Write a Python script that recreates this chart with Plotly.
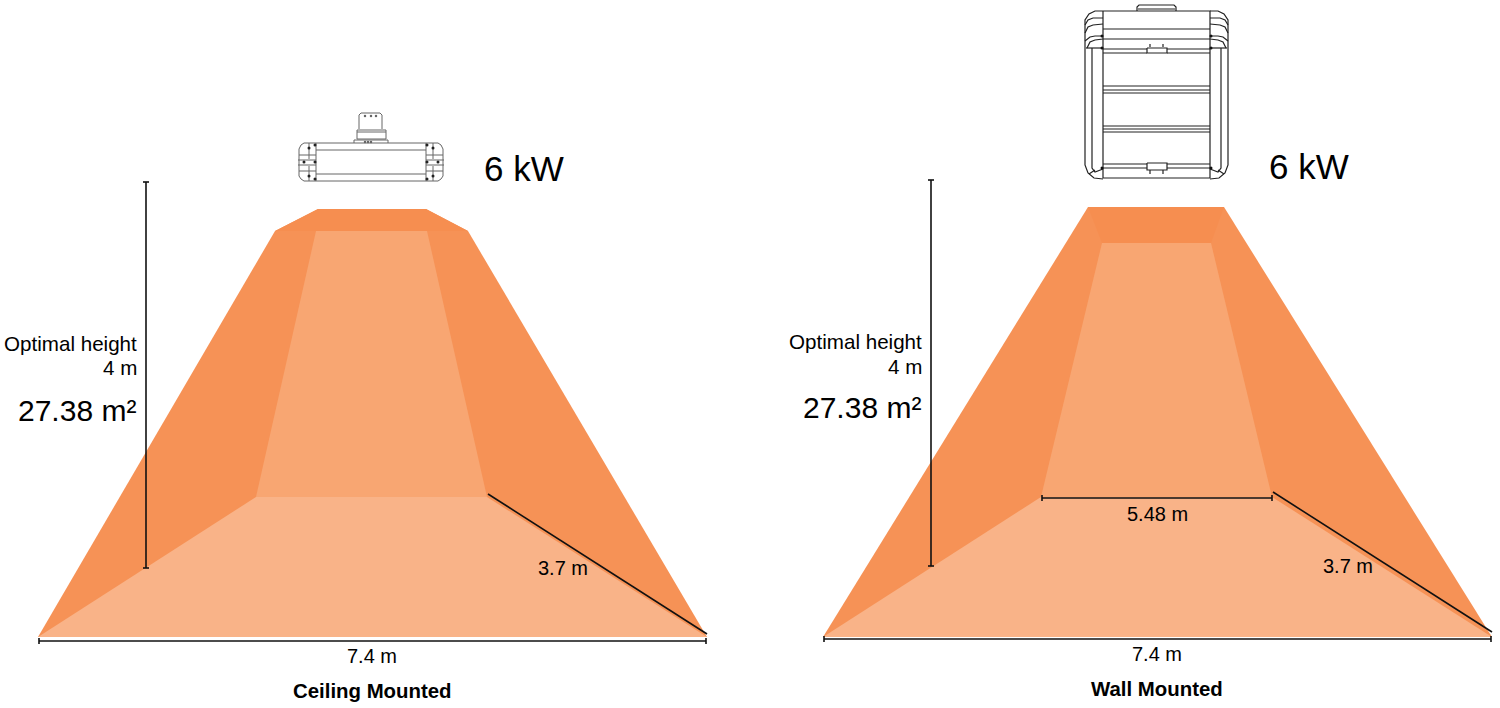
import plotly.graph_objects as go

DARK = "#F69256"
BAND = "#F68E50"
WALL = "#F8A672"
FLOOR = "#F9B388"
INK = "#111111"
GREY = "#666666"

# --- Ceiling mounted diagram (picture coordinates)
c_outer_x = [38, 275, 318, 426, 468, 707]
c_outer_y = [637, 231, 209, 209, 231, 637]
c_band_x = [275, 318, 426, 468]
c_band_y = [231, 209, 209, 231]
c_back_x = [316, 427, 487, 256]
c_back_y = [231, 231, 497, 497]
c_floor_x = [256, 487, 707, 38]
c_floor_y = [497, 497, 637, 637]

# --- Wall mounted diagram
w_outer_x = [823, 1088, 1224, 1492]
w_outer_y = [637, 207, 207, 637]
w_band_x = [1088, 1224, 1211, 1102]
w_band_y = [207, 207, 243, 243]
w_back_x = [1102, 1211, 1272, 1041]
w_back_y = [243, 243, 497, 497]
w_floor_x = [1041, 1272, 1492, 823]
w_floor_y = [497, 497, 637, 637]

# dimension lines
dim_lines = [
    [(146, 182), (146, 568)], [(39, 641), (706, 641)], [(488, 494), (707, 634)],
    [(931, 180), (931, 566)], [(824, 639), (1491, 639)], [(1042, 498), (1272, 498)], [(1273, 492), (1492, 632)],
]
dim_caps = [
    [(143, 182), (149, 182)], [(143, 568), (149, 568)], [(39, 638), (39, 644)], [(706, 638), (706, 644)],
    [(928, 180), (934, 180)], [(928, 566), (934, 566)], [(824, 636), (824, 642)], [(1491, 636), (1491, 642)],
    [(1042, 495), (1042, 501)], [(1272, 495), (1272, 501)],
]

# labels: text, x, y, size, anchor, bold
labels = [
    ("6 kW", 524, 168, 35, "center", False),
    ("6 kW", 1309, 166, 35, "center", False),
    ("Optimal height", 139, 343, 20.6, "right", False),
    ("4 m", 139, 367, 20.6, "right", False),
    ("27.38 m²", 138, 410, 30, "right", False),
    ("Optimal height", 924, 341, 20.6, "right", False),
    ("4 m", 924, 366, 20.6, "right", False),
    ("27.38 m²", 923, 407, 30, "right", False),
    ("3.7 m", 563, 568, 20, "center", False),
    ("3.7 m", 1348, 566, 20, "center", False),
    ("5.48 m", 1157, 514, 20, "center", False),
    ("7.4 m", 372, 656, 20, "center", False),
    ("7.4 m", 1157, 654, 20, "center", False),
    ("Ceiling Mounted", 372, 691, 20.4, "center", True),
    ("Wall Mounted", 1157, 689, 20.4, "center", True),
]

# ceiling heater: left-hand cap (mirrored about c_mid), then central pieces
c_mid = 371
ceil_cap = [
    [(316, 143), (304, 143), (301, 145), (299, 149), (299, 176), (301, 179), (304, 181), (316, 181)],
    [(316, 143), (316, 181)],
    [(298, 160), (316, 160)], [(298, 165), (316, 165)], [(299, 155), (316, 155)], [(299, 171), (316, 171)],
    [(309, 143), (309, 159)], [(309, 166), (309, 181)],
]
ceil_body = [
    [(316, 143), (426, 143)], [(316, 181), (426, 181)], [(316, 150), (426, 150)],
    [(316, 174), (426, 174)],
    [(354, 143), (354, 140), (388, 140), (388, 143)],
    [(357, 139), (357, 130), (386, 130), (386, 139)], [(357, 132), (386, 132)], [(357, 139), (386, 139)],
    [(359, 129), (359, 115), (361, 113), (380, 113), (382, 115), (382, 129)],
]
ceil_dots_left = [(309, 148), (304, 162), (309, 176), (315, 145), (315, 162), (315, 179)]
ceil_holes = [(365, 116), (371, 116), (376, 116), (365, 142), (368, 142), (371, 142)]

# wall heater: left-hand side (mirrored about w_mid), then central pieces
w_mid = 1156.5
wall_side = [
    [(1103, 11), (1095, 11), (1089, 14), (1085, 20), (1085, 46), (1085, 165), (1088, 173), (1094, 178), (1103, 179)],
    [(1085, 25), (1088, 20), (1093, 18), (1103, 18)],
    [(1085, 33), (1088, 27), (1093, 25), (1103, 24)],
    [(1085, 41), (1090, 37), (1095, 36), (1103, 36)],
    [(1087, 48), (1090, 42), (1095, 40), (1103, 39)],
    [(1092, 48), (1092, 168), (1095, 172), (1103, 169)],
    [(1086, 48), (1103, 48)],
    [(1089, 174), (1095, 170)],
]
wall_body = [
    [(1103, 11), (1210, 11), (1210, 178), (1103, 178), (1103, 11)],
    [(1103, 29), (1210, 29)], [(1103, 39), (1210, 39)], [(1103, 49), (1147, 49)], [(1167, 49), (1210, 49)],
    [(1103, 53), (1147, 53)], [(1167, 53), (1210, 53)],
    [(1103, 86), (1210, 86)], [(1103, 90), (1210, 90)], [(1103, 93), (1210, 93)],
    [(1103, 126), (1210, 126)], [(1103, 129), (1210, 129)], [(1103, 132), (1210, 132)],
    [(1103, 164), (1147, 164)], [(1167, 164), (1210, 164)], [(1103, 168), (1147, 168)], [(1167, 168), (1210, 168)],
    [(1137, 11), (1137, 7), (1139, 5), (1174, 5), (1176, 7), (1176, 11)], [(1138, 9), (1175, 9)],
    [(1147, 48), (1167, 48), (1167, 53), (1147, 53), (1147, 48)],
    [(1147, 163), (1167, 163), (1167, 170), (1147, 170), (1147, 163)],
    [(1150, 47), (1150, 44)], [(1163, 47), (1163, 44)],
    [(1150, 170), (1150, 174)], [(1163, 170), (1163, 174)],
]
wall_nodes_left = [(1102, 48), (1102, 36), (1102, 168)]


def mirror(paths, mid):
    return [[(2 * mid - x, y) for x, y in p] for p in paths]


def flat(paths):
    xs, ys = [], []
    for p in paths:
        xs += [q[0] for q in p] + [None]
        ys += [q[1] for q in p] + [None]
    return xs, ys


def poly(x, y, color):
    return go.Scatter(x=x + x[:1], y=y + y[:1], mode="lines", fill="toself",
                      fillcolor=color, line=dict(width=0, color=color),
                      hoverinfo="skip", showlegend=False)


def lines(paths, color, width):
    x, y = flat(paths)
    return go.Scatter(x=x, y=y, mode="lines", line=dict(color=color, width=width),
                      hoverinfo="skip", showlegend=False, connectgaps=False)


def dots(points, color, size):
    return go.Scatter(x=[p[0] for p in points], y=[p[1] for p in points], mode="markers",
                      marker=dict(color=color, size=size), hoverinfo="skip", showlegend=False)


fig = go.Figure()
for x, y, col in [
    (c_outer_x, c_outer_y, DARK), (c_band_x, c_band_y, BAND), (c_back_x, c_back_y, WALL), (c_floor_x, c_floor_y, FLOOR),
    (w_outer_x, w_outer_y, DARK), (w_band_x, w_band_y, BAND), (w_back_x, w_back_y, WALL), (w_floor_x, w_floor_y, FLOOR),
]:
    fig.add_trace(poly(x, y, col))

fig.add_trace(lines(ceil_cap + mirror(ceil_cap, c_mid) + ceil_body, GREY, 1))
fig.add_trace(dots(ceil_dots_left + [(2 * c_mid - x, y) for x, y in ceil_dots_left], "#222222", 3))
fig.add_trace(dots(ceil_holes, GREY, 2.5))
fig.add_trace(lines(wall_side + mirror(wall_side, w_mid) + wall_body, "#222222", 1.2))
fig.add_trace(dots(wall_nodes_left + [(2 * w_mid - x, y) for x, y in wall_nodes_left], "#111111", 3))
fig.add_trace(lines(dim_lines, INK, 1.6))
fig.add_trace(lines(dim_caps, INK, 1.6))

for text, x, y, size, anchor, bold in labels:
    fig.add_annotation(x=x, y=y, text=f"<b>{text}</b>" if bold else text, showarrow=False,
                       xanchor=anchor, yanchor="middle",
                       font=dict(family="Liberation Sans", size=size, color="#000000"))

fig.update_layout(
    width=1500, height=708, margin=dict(l=0, r=0, t=0, b=0),
    paper_bgcolor="white", plot_bgcolor="white", showlegend=False,
    xaxis=dict(range=[0, 1500], visible=False, fixedrange=True),
    yaxis=dict(range=[708, 0], visible=False, fixedrange=True),
)
fig.write_html("out.html", config={"displayModeBar": False},
               post_script="document.body.style.margin='0';document.body.style.overflow='hidden';")
